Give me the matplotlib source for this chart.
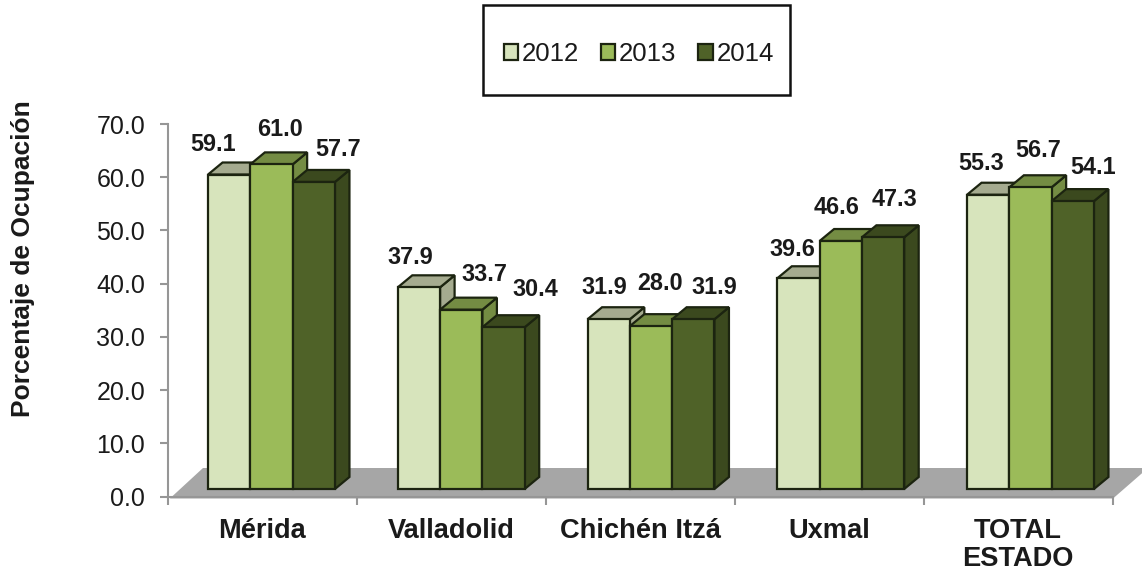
import matplotlib
matplotlib.use("Agg")
import matplotlib.pyplot as plt
from matplotlib.patches import Polygon, Rectangle

plt.rcParams['font.family'] = ['Liberation Sans', 'DejaVu Sans']

categorias = ['Mérida', 'Valladolid', 'Chichén Itzá', 'Uxmal', 'TOTAL\nESTADO']
anios = ['2012', '2013', '2014']
v2012 = [59.1, 37.9, 31.9, 39.6, 55.3]
v2013 = [61.0, 33.7, 30.6, 46.6, 56.7]
v2014 = [57.7, 30.4, 31.9, 47.3, 54.1]
# etiquetas tal como aparecen en la figura (Chichén dice 28.0 aunque la barra es mas alta)
etq2012 = ['59.1', '37.9', '31.9', '39.6', '55.3']
etq2013 = ['61.0', '33.7', '28.0', '46.6', '56.7']
etq2014 = ['57.7', '30.4', '31.9', '47.3', '54.1']
marcas_y = [0, 10, 20, 30, 40, 50, 60, 70]

# (cara frontal, tapa, lateral)
colores = [('#d7e4bc', '#a5ab8f', '#a5ab8f'),
           ('#9bbb59', '#748c43', '#748c43'),
           ('#4f6228', '#3b491e', '#3b491e')]
borde = '#1c2410'

W, H = 1142, 574
fig = plt.figure(figsize=(W / 100, H / 100), dpi=100)
ax = fig.add_axes([168 / W, 1 - 496.5 / H, (1113 - 168) / W, (496.5 - 124) / H])
ax.set_xlim(0, 5)
ax.set_ylim(0, 70)
ax.patch.set_visible(False)

# conversion de pixeles a unidades de datos
ux = 5 / (1113 - 168)
uy = 70 / (496.5 - 124)

# piso gris
ax.add_patch(Polygon([(0.01, -2 * uy), (35 * ux, 28.5 * uy), (5 + 35 * ux, 28.5 * uy), (5, -2 * uy)],
                     closed=True, fc='#a6a6a6', ec='none', clip_on=False, zorder=1))

ancho = 42.3 * ux
prof_x = 14.5 * ux
prof_y = 12 * uy
base = 7.5 * uy
corrimiento = 9 * ux
paso = 189.75 * ux


def barra3d(x, v, cols, z):
    y0 = base
    y1 = base + v
    kw = dict(closed=True, ec=borde, lw=1.6, clip_on=False, joinstyle='miter')
    ax.add_patch(Polygon([(x + ancho, y0), (x + ancho + prof_x, y0 + prof_y),
                          (x + ancho + prof_x, y1 + prof_y), (x + ancho, y1)], fc=cols[2], zorder=z, **kw))
    ax.add_patch(Polygon([(x, y1), (x + prof_x, y1 + prof_y),
                          (x + ancho + prof_x, y1 + prof_y), (x + ancho, y1)], fc=cols[1], zorder=z, **kw))
    ax.add_patch(Rectangle((x, y0), ancho, v, fc=cols[0], ec=borde, lw=1.6, clip_on=False, zorder=z + 0.05))


series = [v2012, v2013, v2014]
etiquetas = [etq2012, etq2013, etq2014]
# desplazamiento de cada etiqueta respecto al centro de la tapa frontal, en px
desp_x = [[-16, -9, -4, -6, -7],
          [8, 23, 9, -4, 8],
          [24, 32, 21, 11, 20]]
desp_y = [[30, 30, 32, 29, 31],
          [35, 35, 43, 34, 37],
          [32, 38, 32, 38, 34]]

for c in range(5):
    for s in range(3):
        x = c * paso + corrimiento + 0.5 + (s - 1.5) * ancho
        barra3d(x, series[s][c], colores[s], 3 + s * 0.1 + c)
        ax.annotate(etiquetas[s][c], xy=(x + ancho / 2, base + series[s][c]),
                    xytext=(desp_x[s][c] * 0.72, desp_y[s][c] * 0.72), textcoords='offset points',
                    ha='center', va='center', fontsize=16.8, fontweight='bold', color='#1a1a1a',
                    annotation_clip=False, zorder=20)

for lado in ['top', 'right']:
    ax.spines[lado].set_visible(False)
for lado in ['left', 'bottom']:
    ax.spines[lado].set_color('#969696')
    ax.spines[lado].set_linewidth(1.5)
ax.spines['bottom'].set_zorder(2)

ax.set_yticks(marcas_y)
ax.set_yticklabels([f'{m:.1f}' for m in marcas_y], fontsize=18, color='#1a1a1a')
ax.tick_params(axis='y', direction='out', length=6, width=1.5, color='#969696', pad=10.5)
ax.set_xticks(range(6))
ax.set_xticklabels([])
ax.tick_params(axis='x', direction='out', length=6, width=1.5, color='#969696')

# categorias centradas bajo cada grupo
nombres_x = [262.5, 451, 640, 829, 1018]
for c, nombre in enumerate(categorias):
    ax.text((nombres_x[c] - 168) * ux, -22 * uy, nombre, ha='center', va='top', fontsize=19.6,
            fontweight='bold', color='#1a1a1a', linespacing=1.08, clip_on=False)

fig.text(23 / W, 1 - 259 / H, 'Porcentaje de Ocupación', rotation=90, ha='center', va='center',
         fontsize=19, fontweight='bold', color='#1a1a1a')

# recuadro de la leyenda
fig.add_artist(Rectangle((483 / W, 1 - 95 / H), (790 - 483) / W, 90 / H, transform=fig.transFigure,
                         fc='white', ec='#111111', lw=1.8))
manijas = [Rectangle((0, 0), 1, 1, fc=colores[i][0], ec=borde, lw=1.6) for i in range(3)]
fig.legend(manijas, anios, loc='center', bbox_to_anchor=(639 / W, 1 - 54 / H), ncol=3, frameon=False,
           fontsize=18.5, handlelength=0.55, handleheight=0.55, handletextpad=0.15, columnspacing=0.85,
           labelcolor='#1a1a1a')

fig.savefig('out.png', dpi=100)
